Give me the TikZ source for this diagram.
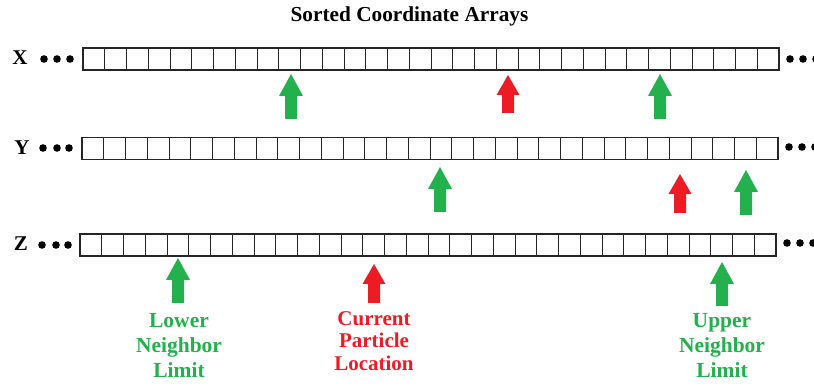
\documentclass[tikz,border=0pt]{standalone}
\usepackage{fontspec}
\setmainfont{Liberation Serif}
\usetikzlibrary{calc}
\definecolor{agreen}{HTML}{22B14C}
\definecolor{ared}{HTML}{ED1C24}
\begin{document}
\begin{tikzpicture}[x=1pt,y=-1pt,
  arr/.style={draw=black!85, line width=1.3pt, minimum width=696pt, minimum height=22pt, inner sep=0pt, outer sep=0pt},
  cellline/.style={draw=black!85, line width=0.9pt},
  axislbl/.style={font=\fontsize{21}{24}\selectfont\bfseries, inner sep=0pt},
  titlelbl/.style={font=\fontsize{21.3}{24}\selectfont\bfseries, inner sep=0pt},
  glbl/.style={font=\fontsize{21.5}{25}\selectfont\bfseries, text=agreen, align=center, inner sep=0pt, anchor=north},
  rlbl/.style={font=\fontsize{21}{22.5}\selectfont\bfseries, text=ared, align=center, inner sep=0pt, anchor=north}]
\useasboundingbox (0,0) rectangle (814,387);

% title
\node[titlelbl] (title) at (409.5,16) {Sorted Coordinate Arrays};

% axis labels
\node[axislbl] (xl) at (20,58) {X};
\node[axislbl] (yl) at (22,148) {Y};
\node[axislbl] (zl) at (21,244) {Z};

% arrays
\node[arr] (X) at (431,59) {};
\node[arr] (Y) at (430,148.5) {};
\node[arr] (Z) at (428,245) {};
\foreach \a in {X,Y,Z}{
  \foreach \i in {1,...,31}{
    \draw[cellline] ($(\a.north west)+(\i*21.75,0)$) -- ($(\a.south west)+(\i*21.75,0)$);
  }
}

% ellipsis dots
\foreach \x/\y in {44/59,57/59,70/59,790/59,803/59,816/59,
                   43/148,57/148,69/148,789/147,802/147,815/147,
                   42/245,56/245,68/245,787/243,800/243,813/243}{
  \fill (\x,\y) circle (3.8pt);
}

% green block arrows: x / tip y / length
\foreach \x/\t/\l in {291/74/45,660/74/45,440/167/45,746/170/45,178/258/45,722/262/44}{
  \fill[agreen, shift={(\x,\t)}] (0,0) -- (12,22) -- (6,22) -- (6,\l) -- (-6,\l) -- (-6,22) -- (-12,22) -- cycle;
}
% red block arrows
\foreach \x/\t/\l in {508/75/38,680/174/39,374/264/39}{
  \fill[ared, shift={(\x,\t)}] (0,0) -- (11.5,20) -- (6,20) -- (6,\l) -- (-6,\l) -- (-6,20) -- (-11.5,20) -- cycle;
}

% bottom labels
\node[glbl] (lower) at (179,313) {Lower\\Neighbor\\Limit};
\node[rlbl] (current) at (374,311) {Current\\Particle\\Location};
\node[glbl] (upper) at (722,313) {Upper\\Neighbor\\Limit};
\end{tikzpicture}
\end{document}
